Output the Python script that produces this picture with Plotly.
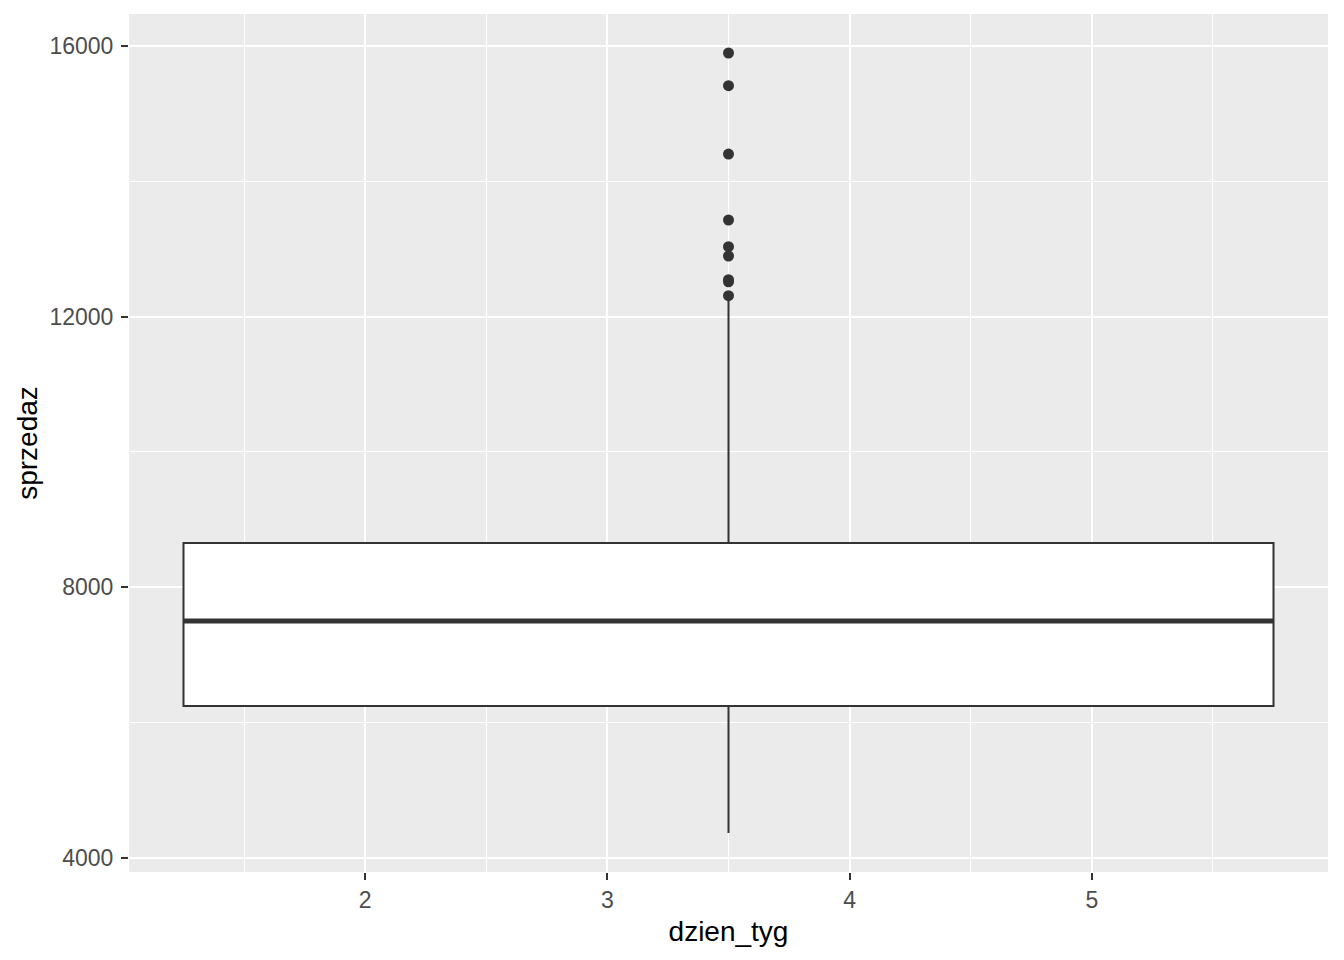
import plotly.graph_objects as go

# ---- data ----
box_x = [3.5]
box_width = 4.5
q1 = [6246]
median = [7502]
q3 = [8655]
lower_whisker = [4369]
upper_whisker = [12270]
outliers = [15896, 15413, 14403, 13428, 13034, 12896, 12545, 12515, 12309]

x_ticks = [2, 3, 4, 5]
y_ticks = [4000, 8000, 12000, 16000]
x_minor = [1.5, 2.5, 3.5, 4.5, 5.5]
y_minor = [6000, 10000, 14000]

x_title = "dzien_tyg"
y_title = "sprzedaz"

# ---- ranges like ggplot (5% expansion) ----
x_lo = box_x[0] - box_width / 2
x_hi = box_x[0] + box_width / 2
xpad = (x_hi - x_lo) * 0.05
y_lo = min(lower_whisker + outliers)
y_hi = max(upper_whisker + outliers)
ypad = (y_hi - y_lo) * 0.05

dark = "#333333"
font_family = "Liberation Sans, Arial, sans-serif"

fig = go.Figure()
fig.add_trace(go.Box(
    x=box_x, q1=q1, median=median, q3=q3,
    lowerfence=lower_whisker, upperfence=upper_whisker,
    width=box_width, whiskerwidth=0, boxpoints=False,
    fillcolor="white", line=dict(color=dark, width=2),
    showlegend=False, hoverinfo="skip",
))
# thick median line (ggplot fatten)
fig.add_trace(go.Scatter(
    x=[x_lo, x_hi], y=[median[0], median[0]], mode="lines",
    line=dict(color=dark, width=5), showlegend=False, hoverinfo="skip",
))
fig.add_trace(go.Scatter(
    x=box_x * len(outliers), y=outliers, mode="markers",
    marker=dict(color=dark, size=11), showlegend=False, hoverinfo="skip",
))

fig.update_layout(
    width=1328, height=944,
    margin=dict(l=121, r=8, t=6, b=80),
    paper_bgcolor="white", plot_bgcolor="#EBEBEB",
    font=dict(family=font_family),
    showlegend=False,
)
fig.update_xaxes(
    range=[x_lo - xpad, x_hi + xpad],
    tickvals=x_ticks, ticktext=[str(v) for v in x_ticks],
    ticks="outside", ticklen=7, tickwidth=2, tickcolor=dark,
    tickfont=dict(size=23, color="#4D4D4D", family=font_family),
    showgrid=True, gridcolor="white", gridwidth=2, zeroline=False,
    showline=False,
    minor=dict(tickvals=x_minor, showgrid=True, gridcolor="white", gridwidth=1, ticklen=0),
    title=dict(text=x_title, font=dict(size=28, color="black", family=font_family), standoff=9),
)
fig.update_yaxes(
    range=[y_lo - ypad, y_hi + ypad],
    tickvals=y_ticks, ticktext=[str(v) for v in y_ticks],
    ticks="outside", ticklen=7, tickwidth=2, tickcolor=dark,
    tickfont=dict(size=23, color="#4D4D4D", family=font_family),
    ticklabelstandoff=3,
    showgrid=True, gridcolor="white", gridwidth=2, zeroline=False,
    showline=False,
    minor=dict(tickvals=y_minor, showgrid=True, gridcolor="white", gridwidth=1, ticklen=0),
    title=dict(text=y_title, font=dict(size=28, color="black", family=font_family), standoff=3),
)

fig.write_html("out.html")
